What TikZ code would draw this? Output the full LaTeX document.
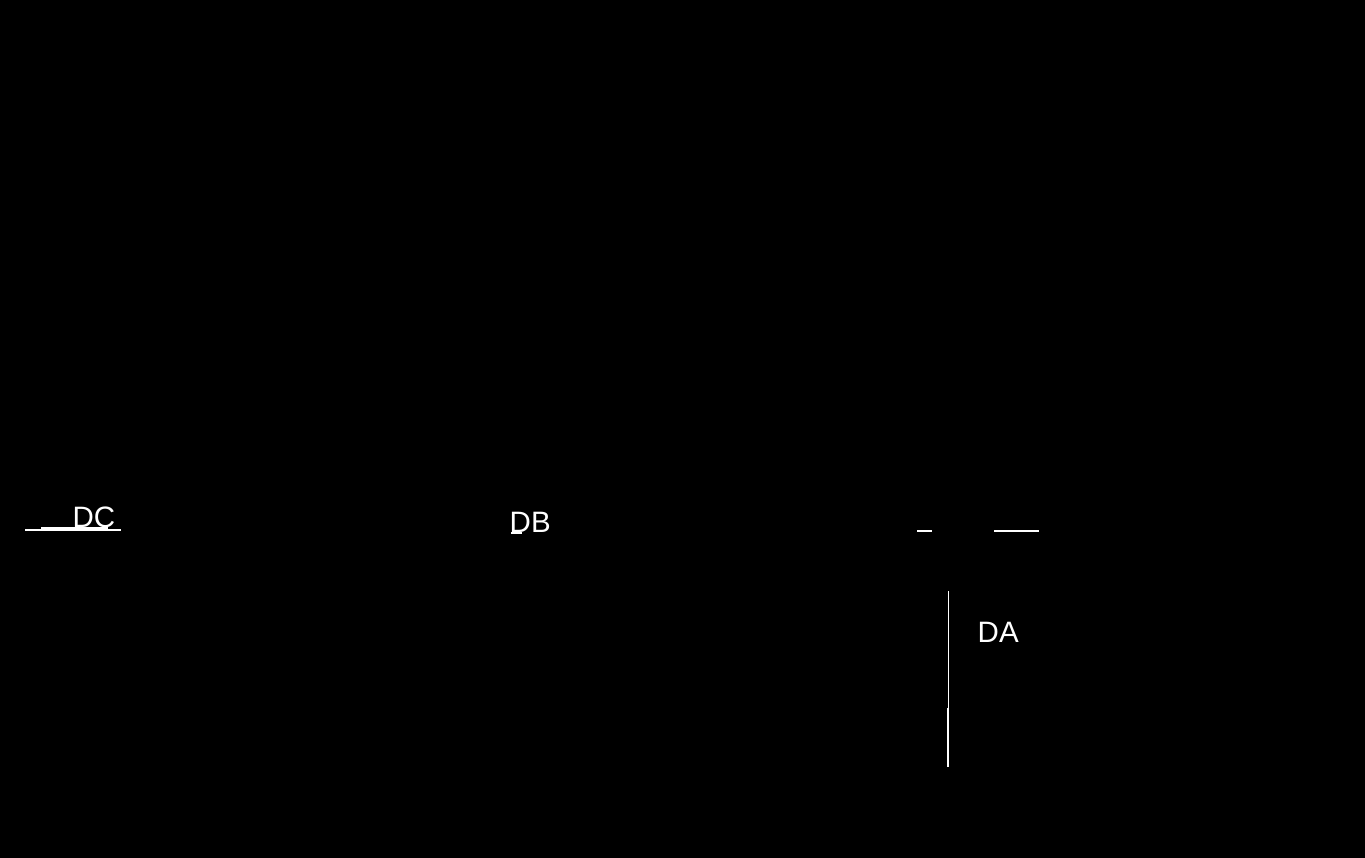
\documentclass[tikz,border=0pt]{standalone}
\usepackage{fontspec}
\setmainfont{Liberation Sans}
\begin{document}
\begin{tikzpicture}[x=1pt,y=-1pt,
  lbl/.style={text=white,inner sep=0pt,anchor=base west,font=\fontsize{29.5}{31}\selectfont},
  wline/.style={draw=white,line width=1.2pt},
  wthick/.style={draw=white,line width=2.2pt}]
\fill[black] (0,0) rectangle (1365,858);
\useasboundingbox (0,0) rectangle (1365,858);
% labels
\node[lbl] (dc) at (72.5,527.5) {DC};
\node[lbl] (db) at (509.5,532.5) {DB};
\node[lbl] (da) at (977.5,642.5) {DA};
% fragments near DC
\coordinate (c1) at (25,530);
\coordinate (c2) at (121,530);
\coordinate (c3) at (41,528);
\coordinate (c4) at (108,528);
\draw[wline] (c1) -- (c2);
\draw[wline] (c3) -- (c4);
% fragment near DB
\coordinate (b1) at (511,533);
\coordinate (b2) at (522,533);
\draw[wline] (b1) -- (b2);
% fragments near DA
\coordinate (a1) at (917,531);
\coordinate (a2) at (921,531);
\coordinate (a3) at (932,531);
\draw[wthick] (a1) -- (a2);
\draw[wline] (a2) -- (a3);
\coordinate (a4) at (994,531);
\coordinate (a5) at (1024,531);
\coordinate (a6) at (1039,531);
\draw[wline] (a4) -- (a5);
\draw[wthick] (a5) -- (a6);
\coordinate (v1) at (948.2,591);
\coordinate (v2) at (948.2,708);
\coordinate (v3) at (947.8,708);
\coordinate (v4) at (947.8,767);
\draw[wline] (v1) -- (v2);
\draw[wthick] (v3) -- (v4);
\end{tikzpicture}
\end{document}
